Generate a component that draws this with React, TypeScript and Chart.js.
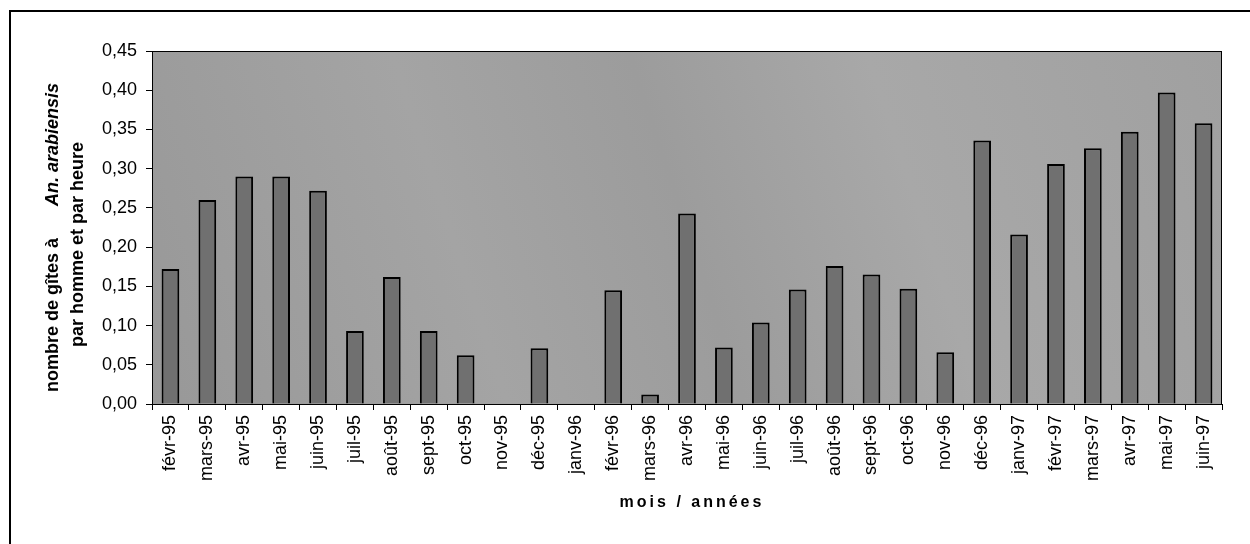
import React, { useEffect, useRef } from "react";
import { Chart, registerables } from "chart.js";

Chart.register(...registerables);

const months: string[] = [
  "févr-95", "mars-95", "avr-95", "mai-95", "juin-95", "juil-95", "août-95", "sept-95",
  "oct-95", "nov-95", "déc-95", "janv-96", "févr-96", "mars-96", "avr-96", "mai-96",
  "juin-96", "juil-96", "août-96", "sept-96", "oct-96", "nov-96", "déc-96", "janv-97",
  "févr-97", "mars-97", "avr-97", "mai-97", "juin-97",
];

const gites: number[] = [
  0.172, 0.26, 0.29, 0.29, 0.272, 0.093, 0.162, 0.093,
  0.062, 0, 0.071, 0, 0.145, 0.012, 0.243, 0.072,
  0.104, 0.146, 0.176, 0.165, 0.147, 0.066, 0.336, 0.216,
  0.306, 0.326, 0.347, 0.397, 0.358,
];

const yTitleLine1a = "nombre de gîtes à";
const yTitleLine1b = "An. arabiensis";
const yTitleLine2 = "par homme et par heure";
const xTitle = "mois / années";

const FONT = "Arial, 'Liberation Sans', sans-serif";

const decorPlugin = {
  id: "decor",
  beforeDraw(chart: any) {
    const { ctx, chartArea } = chart;
    const { left, top, right, bottom } = chartArea;
    ctx.save();
    // page frame
    ctx.strokeStyle = "#000";
    ctx.lineWidth = 2;
    ctx.beginPath();
    ctx.moveTo(1250, 11);
    ctx.lineTo(10, 11);
    ctx.lineTo(10, 544);
    ctx.stroke();
    // plot background
    const g = ctx.createLinearGradient(left, bottom, right, top);
    g.addColorStop(0, "#989898");
    g.addColorStop(0.3, "#a4a4a4");
    g.addColorStop(0.5, "#9c9c9c");
    g.addColorStop(0.7, "#a8a8a8");
    g.addColorStop(1, "#a0a0a0");
    ctx.fillStyle = g;
    ctx.fillRect(left, top, right - left, bottom - top);
    ctx.restore();
  },
  afterDraw(chart: any) {
    const { ctx, chartArea } = chart;
    const { left, top, right, bottom } = chartArea;
    ctx.save();
    ctx.strokeStyle = "#000";
    ctx.lineWidth = 1;
    ctx.strokeRect(left + 0.5, top + 0.5, right - left - 1, bottom - top);
    ctx.fillStyle = "#000";
    const cy = (top + bottom) / 2;
    // y title, line 1 (mixed roman / italic)
    ctx.save();
    ctx.translate(53, cy + 10);
    ctx.rotate(-Math.PI / 2);
    ctx.textBaseline = "middle";
    ctx.textAlign = "left";
    const gap = 32;
    ctx.font = `bold 18px ${FONT}`;
    const w1 = ctx.measureText(yTitleLine1a).width;
    ctx.font = `bold italic 18px ${FONT}`;
    const w2 = ctx.measureText(yTitleLine1b).width;
    const x0 = -(w1 + gap + w2) / 2;
    ctx.font = `bold 18px ${FONT}`;
    ctx.fillText(yTitleLine1a, x0, 0);
    ctx.font = `bold italic 18px ${FONT}`;
    ctx.fillText(yTitleLine1b, x0 + w1 + gap, 0);
    ctx.restore();
    // y title, line 2
    ctx.save();
    ctx.translate(78, cy + 17);
    ctx.rotate(-Math.PI / 2);
    ctx.textBaseline = "middle";
    ctx.textAlign = "center";
    ctx.font = `bold 18px ${FONT}`;
    ctx.fillText(yTitleLine2, 0, 0);
    ctx.restore();
    // x title
    ctx.textAlign = "center";
    ctx.textBaseline = "middle";
    ctx.font = `bold 16px ${FONT}`;
    (ctx as any).letterSpacing = "3px";
    ctx.fillText(xTitle, (left + right) / 2 + 5, 503);
    ctx.restore();
  },
};

export default function App() {
  const ref = useRef<HTMLCanvasElement | null>(null);
  useEffect(() => {
    if (!ref.current) return;
    const chart = new Chart(ref.current, {
      type: "bar",
      data: {
        labels: months,
        datasets: [
          {
            data: gites,
            backgroundColor: "#707070",
            borderColor: "#000",
            borderWidth: 2,
            borderSkipped: "bottom",
            barPercentage: 0.48,
            categoryPercentage: 1,
          },
        ],
      },
      options: {
        responsive: false,
        animation: false,
        layout: { padding: { left: 0, top: 51, right: 28, bottom: 0 } },
        plugins: { legend: { display: false }, tooltip: { enabled: false } },
        scales: {
          x: {
            grid: {
              offset: true,
              drawOnChartArea: false,
              drawTicks: true,
              tickLength: 6,
              color: "#000",
            },
            border: { color: "#000", width: 1 },
            ticks: {
              color: "#000",
              font: { family: FONT, size: 18 },
              minRotation: 90,
              maxRotation: 90,
              autoSkip: false,
              padding: 5,
            },
            afterFit: (s: any) => {
              s.height = 140;
            },
          },
          y: {
            min: 0,
            max: 0.45,
            grid: { drawOnChartArea: false, tickLength: 6, color: "#000" },
            border: { color: "#000", width: 1 },
            ticks: {
              stepSize: 0.05,
              color: "#000",
              font: { family: FONT, size: 18 },
              padding: 9,
              callback: (v: any) => Number(v).toFixed(2).replace(".", ","),
            },
            afterFit: (s: any) => {
              s.width = 152;
            },
          },
        },
      },
      plugins: [decorPlugin],
    });
    return () => chart.destroy();
  }, []);
  return (
    <div style={{ position: "absolute", left: 0, top: 0, width: 1250, height: 544, background: "#fff" }}>
      <canvas ref={ref} width={1250} height={544} style={{ display: "block" }} />
    </div>
  );
}
